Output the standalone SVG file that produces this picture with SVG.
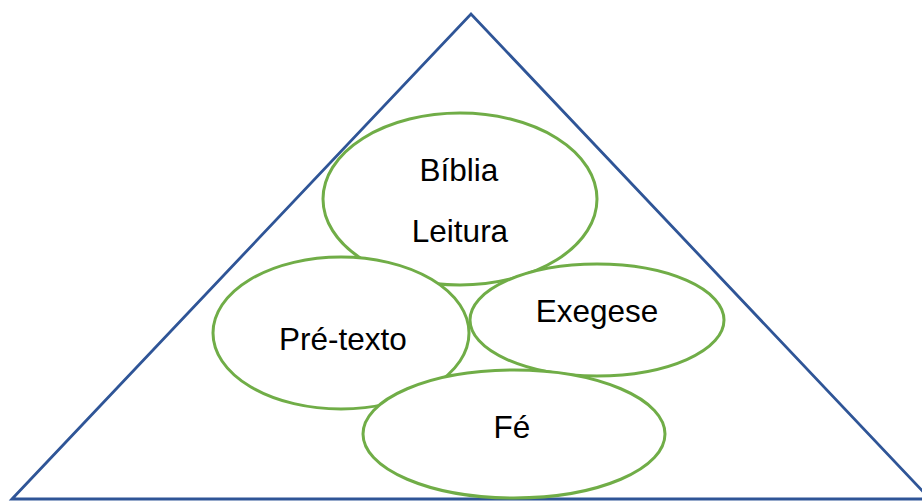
<svg xmlns="http://www.w3.org/2000/svg" width="922" height="502" viewBox="0 0 922 502">
  <style>
    .tri { fill: none; stroke: #2F5597; stroke-width: 2.8; stroke-linejoin: miter; }
    .ell { fill: #FFFFFF; stroke: #70AD47; stroke-width: 3; }
    .lbl { font-family: "Liberation Sans", Arial, sans-serif; font-size: 31.5px; fill: #000000; text-anchor: middle; }
  </style>
  <rect width="922" height="502" fill="#FFFFFF"/>
  <g id="triangle">
    <polygon class="tri" points="12,499 471,14 930,499"/>
  </g>
  <g id="connectors"></g>
  <g id="node-biblia">
    <ellipse class="ell" cx="460" cy="199" rx="137" ry="86"/>
    <text class="lbl" x="459" y="181">Bíblia</text>
    <text class="lbl" x="460" y="242">Leitura</text>
  </g>
  <g id="node-exegese">
    <ellipse class="ell" cx="597" cy="320" rx="127" ry="56"/>
    <text class="lbl" x="597" y="322">Exegese</text>
  </g>
  <g id="node-pretexto">
    <ellipse class="ell" cx="341" cy="333" rx="128" ry="76"/>
    <text class="lbl" x="343" y="350">Pré-texto</text>
  </g>
  <g id="node-fe">
    <ellipse class="ell" cx="514" cy="434" rx="151" ry="64"/>
    <text class="lbl" x="512" y="438">Fé</text>
  </g>
</svg>
